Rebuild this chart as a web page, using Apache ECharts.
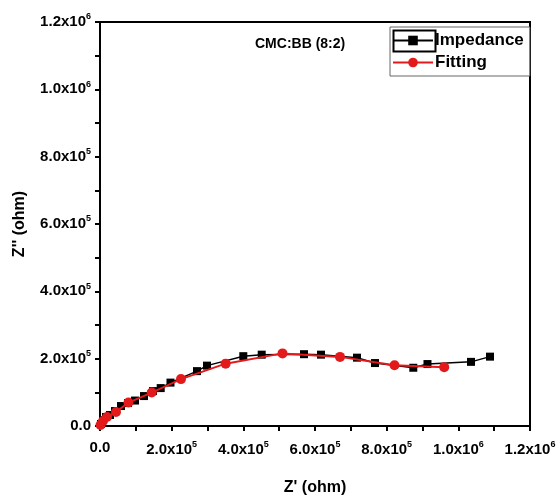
<!DOCTYPE html>
<html>
<head>
<meta charset="utf-8">
<script src="https://cdn.jsdelivr.net/npm/echarts@6/dist/echarts.min.js"></script>
<style>
  html, body { margin: 0; padding: 0; background: #fff; }
  #chart { width: 559px; height: 501px; }
</style>
</head>
<body>
<div id="chart"></div>
<script>
// Impedance (black squares), Z' and Z'' in ohm
const impZre = [2.8e3, 8.4e3, 1.67e4, 2.79e4, 4.19e4, 5.86e4, 7.81e4, 9.77e4, 1.228e5, 1.479e5,
  1.694e5, 1.967e5, 2.707e5, 2.986e5, 3.999e5, 4.513e5, 5.693e5, 6.167e5, 7.172e5, 7.674e5,
  8.743e5, 9.139e5, 1.0353e6, 1.0884e6];
const impZim = [5.9e3, 1.78e4, 2.67e4, 3.26e4, 4.44e4, 5.93e4, 6.82e4, 7.56e4, 8.89e4, 1.037e5,
  1.126e5, 1.289e5, 1.63e5, 1.793e5, 2.074e5, 2.119e5, 2.133e5, 2.119e5, 2.03e5, 1.87e5,
  1.73e5, 1.84e5, 1.905e5, 2.06e5];

// Fitting (red circles)
const fitZre = [1.4e3, 8.4e3, 1.95e4, 4.47e4, 7.95e4, 1.443e5, 2.26e5, 3.506e5, 5.093e5, 6.698e5, 8.219e5, 9.605e5];
const fitZim = [3.0e3, 1.48e4, 2.67e4, 4.15e4, 6.96e4, 9.93e4, 1.393e5, 1.852e5, 2.157e5, 2.053e5, 1.807e5, 1.748e5];

const axisMax = 1.2e6;
const axisStep = 2e5;

const FONT = "Liberation Sans, Arial, sans-serif";

function sciLabel(v) {
  if (v === 0) return "{m|0.0}";
  const e = Math.floor(Math.log10(v) + 1e-9);
  const m = (v / Math.pow(10, e)).toFixed(1);
  return "{m|" + m + "x10}{s|" + e + "}";
}

const labelRich = {
  m: { fontSize: 15, fontWeight: "bold", color: "#000", fontFamily: FONT },
  s: { fontSize: 9, fontWeight: "bold", color: "#000", fontFamily: FONT, padding: [0, 0, 10, 0] },
};

function valueAxis(extra, labelMargin) {
  return Object.assign({
    type: "value",
    min: 0,
    max: axisMax,
    interval: axisStep,
    nameLocation: "middle",
    nameTextStyle: { fontSize: 16, fontWeight: "bold", color: "#000", fontFamily: FONT },
    axisLine: { show: true, onZero: false, lineStyle: { color: "#000", width: 2 } },
    axisTick: { show: true, inside: false, length: 5, lineStyle: { color: "#000", width: 2 } },
    minorTick: { show: true, splitNumber: 2, length: 5, lineStyle: { color: "#000", width: 2 } },
    splitLine: { show: false },
    axisLabel: { formatter: sciLabel, rich: labelRich, margin: labelMargin },
  }, extra);
}

const chart = echarts.init(document.getElementById("chart"));

const option = {
  animation: false,
  backgroundColor: "#fff",
  grid: {
    left: 100, top: 22, width: 430, height: 405,
    show: true, borderColor: "#000", borderWidth: 2,
  },
  xAxis: valueAxis({ name: "Z' (ohm)", nameGap: 54 }, 14),
  yAxis: valueAxis({ name: "Z'' (ohm)", nameGap: 72 }, 9),
  legend: {
    orient: "vertical",
    left: 390,
    top: 27,
    itemWidth: 40,
    itemHeight: 12,
    itemGap: 5,
    padding: [5, 6, 5, 2],
    borderColor: "#666",
    borderWidth: 1,
    backgroundColor: "#fff",
    textStyle: { fontSize: 17, fontWeight: "bold", color: "#000", fontFamily: FONT, padding: [0, 0, 0, -3] },
    data: ["Impedance", "Fitting"],
  },
  graphic: [
    {
      type: "text",
      left: 255,
      top: 37,
      style: { text: "CMC:BB (8:2)", fontSize: 14, fontWeight: "bold", fill: "#000", fontFamily: FONT },
    },
    {
      type: "rect",
      left: 391,
      top: 28,
      shape: { width: 42, height: 21 },
      style: { fill: "none", stroke: "#000", lineWidth: 2 },
      z: 100,
    },
  ],
  series: [
    {
      name: "Impedance",
      type: "line",
      data: impZre.map((x, i) => [x, impZim[i]]),
      symbol: "rect",
      symbolSize: 8,
      lineStyle: { color: "#000", width: 1.5 },
      itemStyle: { color: "#000" },
      z: 2,
    },
    {
      name: "Fitting",
      type: "line",
      data: fitZre.map((x, i) => [x, fitZim[i]]),
      symbol: "circle",
      symbolSize: 10,
      lineStyle: { color: "#e31a1c", width: 2 },
      itemStyle: { color: "#e31a1c" },
      z: 3,
    },
  ],
};

chart.setOption(option);
</script>
</body>
</html>
